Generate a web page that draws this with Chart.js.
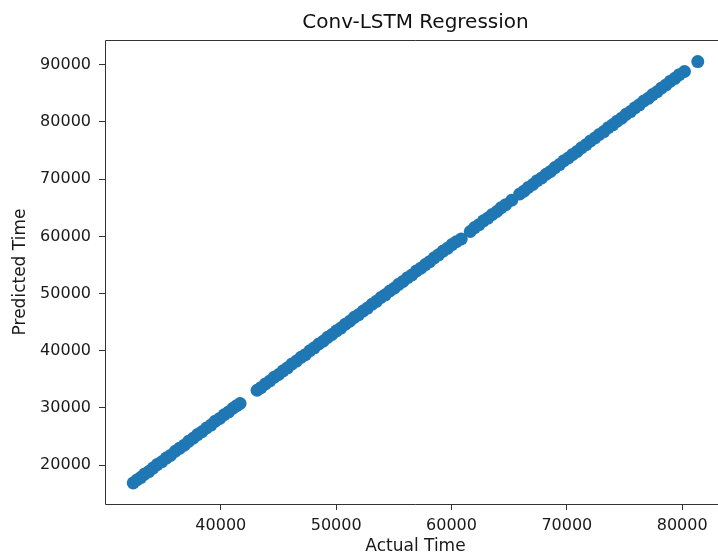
<!DOCTYPE html>
<html>
<head>
<meta charset="utf-8">
<script src="https://cdn.jsdelivr.net/npm/chart.js@4/dist/chart.umd.min.js"></script>
<style>
    html, body { margin: 0; padding: 0; background: #fff; overflow: hidden; }
    #wrap { position: absolute; left: 0; top: 0; width: 718px; height: 555px; overflow: hidden; }
    #scatter-chart { position: absolute; left: 0; top: 0; }
</style>
</head>
<body>
<div id="wrap"><canvas id="scatter-chart" width="760" height="555"></canvas></div>
<script>
// values
var actualTime = [
    32407, 32720, 33050, 33390, 33760, 34120, 34480, 34890, 35270, 35640,
    36050, 36420, 36830, 37210, 37600, 37980, 38370, 38760, 39150, 39520,
    39910, 40290, 40680, 41050, 41380, 41671,
    43143, 43480, 43860, 44250, 44630, 45020, 45400, 45790, 46170, 46560,
    46950, 47330, 47720, 48100, 48490, 48870, 49260, 49640, 50030, 50410,
    50800, 51180, 51570, 51950, 52340, 52720, 53110, 53490, 53880, 54260,
    54650, 55030, 55420, 55800, 56190, 56570, 56960, 57340, 57730, 58110,
    58500, 58880, 59270, 59650, 60040, 60420, 60848,
    61627, 62000, 62390, 62770, 63160, 63540, 63930, 64310, 64700, 65221,
    65913, 66280, 66660, 67050, 67430, 67820, 68200, 68590, 68970, 69360,
    69740, 70130, 70510, 70900, 71280, 71670, 72050, 72440, 72820, 73210,
    73590, 73980, 74360, 74750, 75130, 75520, 75900, 76290, 76670, 77060,
    77440, 77830, 78210, 78600, 78980, 79370, 79750, 80199,
    81351
]
var predictedTime = [
    16895, 17407, 17834, 18436, 18884, 19496, 20099, 20597, 21240, 21707,
    22435, 22943, 23490, 24173, 24701, 25353, 25841, 26499, 27007, 27684,
    28172, 28815, 29302, 29950, 30397, 30776,
    33094, 33542, 34205, 34712, 35375, 35853, 36495, 37023, 37706, 38204,
    38851, 39324, 40002, 40514, 41182, 41665, 42352, 42845, 43483, 43966,
    44653, 45156, 45844, 46306, 46954, 47457, 48134, 48647, 49315, 49787,
    50445, 50928, 51616, 52128, 52786, 53269, 53966, 54439, 55077, 55579,
    56257, 56770, 57438, 57910, 58568, 59061, 59560,
    60850, 61532, 62049, 62712, 63200, 63832, 64350, 65013, 65541, 66316,
    67409, 67902, 68564, 69072, 69735, 70222, 70865, 71363, 72035, 72563,
    73226, 73704, 74336, 74854, 75517, 76034, 76697, 77205, 77827, 78325,
    79008, 79505, 80138, 80676, 81339, 81816, 82479, 83007, 83669, 84147,
    84790, 85287, 85960, 86488, 87130, 87638, 88281, 88828,
    90560
]
var xTicks = [40000, 50000, 60000, 70000, 80000]
var yTicks = [20000, 30000, 40000, 50000, 60000, 70000, 80000, 90000]

var points = actualTime.map(function (v, i) {
    return { x: v, y: predictedTime[i] }
})

// left / top / bottom spines (right one is outside the window in the original)
var frame = {
    id: 'frame',
    afterDraw: function (chart) {
        var a = chart.chartArea
        var ctx = chart.ctx
        var l = Math.round(a.left) + 0.5
        var t = Math.round(a.top) + 0.5
        var b = Math.round(a.bottom) + 0.5
        ctx.save()
        ctx.strokeStyle = '#333'
        ctx.lineWidth = 1
        ctx.beginPath()
        ctx.moveTo(a.right, t)
        ctx.lineTo(l, t)
        ctx.lineTo(l, b)
        ctx.lineTo(a.right, b)
        ctx.stroke()
        ctx.restore()
    }
}

var tickFont = { family: 'DejaVu Sans', size: 16 }
var labelFont = { family: 'DejaVu Sans', size: 17 }

var scatterChart = new Chart(document.getElementById('scatter-chart'), {
    type: 'scatter',
    data: {
        datasets: [{
            data: points,
            backgroundColor: '#1f77b4',
            borderColor: '#1f77b4',
            borderWidth: 0,
            pointRadius: 6.5,
            pointHoverRadius: 6.5
        }]
    },
    options: {
        responsive: false,
        animation: false,
        layout: { padding: { left: 0, right: 34, top: 0, bottom: 0 } },
        plugins: {
            legend: { display: false },
            tooltip: { enabled: false },
            title: {
                display: true,
                fullSize: false,
                text: 'Conv-LSTM Regression',
                color: '#111',
                font: { family: 'DejaVu Sans', size: 20, weight: 'normal' },
                padding: { top: 11, bottom: 5 }
            }
        },
        scales: {
            x: {
                type: 'linear',
                min: 29960,
                max: 83798,
                afterFit: function (scale) {
                    scale.height = 51
                    scale.paddingLeft = 0
                    scale.paddingRight = 0
                },
                afterBuildTicks: function (scale) {
                    scale.ticks = xTicks.map(function (v) { return { value: v } })
                },
                grid: {
                    display: true,
                    drawOnChartArea: false,
                    drawTicks: true,
                    tickLength: 6,
                    color: '#333'
                },
                border: { display: false },
                ticks: {
                    color: '#1a1a1a',
                    font: tickFont,
                    padding: 6,
                    maxRotation: 0,
                    callback: function (v) { return String(v) }
                },
                title: {
                    display: true,
                    text: 'Actual Time',
                    color: '#1a1a1a',
                    font: labelFont,
                    padding: { top: 0, bottom: -2 }
                }
            },
            y: {
                type: 'linear',
                min: 13207,
                max: 94337,
                afterFit: function (scale) { scale.width = 105 },
                afterBuildTicks: function (scale) {
                    scale.ticks = yTicks.map(function (v) { return { value: v } })
                },
                grid: {
                    display: true,
                    drawOnChartArea: false,
                    drawTicks: true,
                    tickLength: 6,
                    color: '#333'
                },
                border: { display: false },
                ticks: {
                    color: '#1a1a1a',
                    font: tickFont,
                    padding: 8,
                    callback: function (v) { return String(v) }
                },
                title: {
                    display: true,
                    text: 'Predicted Time',
                    color: '#1a1a1a',
                    font: labelFont,
                    padding: { top: 10, bottom: 0 }
                }
            }
        }
    },
    plugins: [frame]
})
</script>
</body>
</html>
